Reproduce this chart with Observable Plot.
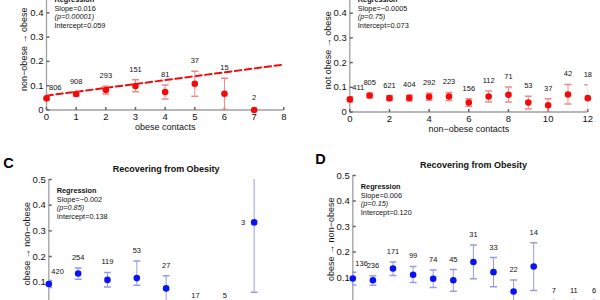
<!DOCTYPE html>
<html>
<head>
<meta charset="utf-8">
<script src="https://cdn.jsdelivr.net/npm/d3@7"></script>
<script src="https://cdn.jsdelivr.net/npm/@observablehq/plot@0.6"></script>
<style>
  html, body { margin: 0; padding: 0; background: #fff; }
  #fig { position: relative; width: 600px; height: 300px; overflow: hidden; }
  #fig svg { position: absolute; max-width: none; }
</style>
</head>
<body>
<div id="fig"></div>
<script>
// A: becoming obese, by number of obese contacts
const contactsA = [0, 1, 2, 3, 4, 5, 6, 7];
const rateA = [0.048, 0.066, 0.082, 0.099, 0.074, 0.108, 0.067, 0];
const loA   = [0.041, 0.058, 0.066, 0.075, 0.045, 0.057, 0.002, 0];
const hiA   = [0.056, 0.074, 0.098, 0.124, 0.103, 0.159, 0.131, 0];
const nA    = [806, 908, 293, 151, 81, 37, 15, 2];

// B: becoming obese, by number of non-obese contacts
const contactsB = [0, 1, 2, 3, 4, 5, 6, 7, 8, 9, 10, 11, 12];
const rateB = [0.051, 0.067, 0.056, 0.057, 0.062, 0.063, 0.038, 0.063, 0.070, 0.038, 0.027, 0.071, 0.056];
const loB   = [0.040, 0.058, 0.047, 0.045, 0.048, 0.047, 0.023, 0.040, 0.040, 0.012, 0.000, 0.032, 0.002];
const hiB   = [0.062, 0.076, 0.066, 0.068, 0.076, 0.079, 0.054, 0.085, 0.101, 0.064, 0.054, 0.111, 0.110];
const nB    = [411, 805, 621, 404, 292, 223, 156, 112, 71, 53, 37, 42, 18];

// C: recovering from obesity, by number of obese contacts
const contactsC = [0, 1, 2, 3, 4, 5, 6, 7];
const rateC = [0.093, 0.134, 0.109, 0.116, 0.076, 0, 0, 0.333];
const loC   = [0.079, 0.112, 0.081, 0.088, 0.026, 0, 0, 0.061];
const hiC   = [0.107, 0.155, 0.138, 0.183, 0.125, 0, 0, 0.605];
const nC    = [420, 254, 119, 53, 27, 17, 5, 3];

// D: recovering from obesity, by number of non-obese contacts
const contactsD = [0, 1, 2, 3, 4, 5, 6, 7, 8, 9, 10, 11, 12];
const rateD = [0.096, 0.089, 0.135, 0.111, 0.095, 0.089, 0.161, 0.121, 0.045, 0.143, 0, 0, 0];
const loD   = [0.071, 0.070, 0.108, 0.080, 0.061, 0.046, 0.095, 0.064, 0.001, 0.049, 0, 0, 0];
const hiD   = [0.121, 0.107, 0.161, 0.143, 0.129, 0.131, 0.227, 0.178, 0.090, 0.236, 0, 0, 0];
const nD    = [136, 236, 171, 99, 74, 45, 31, 33, 22, 14, 7, 11, 6];

// Regression summaries (A, B, C, D)
const slopes     = [0.016, -0.0005, -0.002, 0.006];
const pValues    = ["0.00001", "0.75", "0.85", "0.15"];
const intercepts = [0.059, 0.073, 0.138, 0.120];

const yTicks = [0, 0.1, 0.2, 0.3, 0.4, 0.5];
const yTickLabelsTop = [0, 0.1, 0.2, 0.3, 0.4];
const yTickLabelsBottom = [0.1, 0.2, 0.3, 0.4, 0.5];
const xTicksObese = [0, 1, 2, 3, 4, 5, 6, 7, 8];
const xTicksNonObese = [0, 2, 4, 6, 8, 10, 12];

const font = `"Liberation Sans", Arial, Helvetica, sans-serif`;
const axisColor = "#a0a0a0";
const red = "#f50a0a", redBar = "#f08a8a";
const blue = "#0a14f0", blueBar = "#9a9ae6";

// Custom glyphs: error-bar caps and inward-pointing axis ticks
const len = size => Math.sqrt(size / Math.PI);
const capSymbol = {draw(ctx, size) { const r = len(size); ctx.moveTo(-r, 0); ctx.lineTo(r, 0); }};
const tickRight = {draw(ctx, size) { const r = len(size); ctx.moveTo(0, 0); ctx.lineTo(r, 0); }};
const tickUp    = {draw(ctx, size) { const r = len(size); ctx.moveTo(0, 0); ctx.lineTo(0, -r); }};

const signed = v => String(v).replace("-", "\u2212");

function panel(p) {
  const rows = p.x.map((x, i) => ({x, rate: p.rate[i], lo: p.lo[i], hi: p.hi[i], n: p.n[i]}));
  const bars = rows.filter(d => d.hi > d.lo);
  const f = p.frame;
  const mt = 30, mb = 40, W = 300;
  const H = mt + (f.bottom - f.top) + mb;
  const xMax = p.xTicks[p.xTicks.length - 1];

  const marks = [
    Plot.ruleY([0], {stroke: axisColor, strokeWidth: 1.3}),
    Plot.ruleX([0], {stroke: axisColor, strokeWidth: 1.3}),
    Plot.dot(yTicks, {x: 0, y: d => d, symbol: tickRight, r: 3, stroke: "#666", fill: "none"}),
    Plot.dot(p.xTicks, {x: d => d, y: 0, symbol: tickUp, r: 3, stroke: "#666", fill: "none"}),
    Plot.axisY({ticks: p.yTickLabels, tickSize: 0, tickPadding: 3, fontSize: 9.5, label: null,
      tickFormat: d => String(d), fill: "#111"}),
    Plot.text([p.yLabel], {text: d => d, frameAnchor: "left", rotate: -90, dx: -22,
      textAnchor: "middle", lineAnchor: "middle", fontSize: 9, fill: "#111"})
  ];

  if (p.xLabel) {
    marks.push(
      Plot.axisX({ticks: p.xTicks, tickSize: 0, tickPadding: 3, fontSize: 9.5, label: null, fill: "#111"}),
      Plot.text([p.xLabel], {text: d => d, frameAnchor: "bottom", dy: 17.5,
        lineAnchor: "middle", fontSize: 9, fill: "#111"})
    );
  }
  if (p.title) {
    marks.push(Plot.text([p.title], {text: d => d, frameAnchor: "top", dy: -10,
      lineAnchor: "middle", fontSize: 9, fontWeight: "bold", fill: "#111"}));
  }
  if (p.letter) {
    marks.push(Plot.text([p.letter], {text: d => d, frameAnchor: "top-left", textAnchor: "start",
      lineAnchor: "middle", dx: p.letterDx, dy: -16, fontSize: 14.5, fontWeight: "bold", fill: "#000"}));
  }

  // Regression summary block
  const k = p.reg;
  const regLines = [
    {t: "Regression", w: "bold", s: "normal"},
    {t: "Slope=" + signed(slopes[k]), w: "normal", s: "normal"},
    {t: "(p=" + pValues[k] + ")", w: "normal", s: "italic"},
    {t: "Intercept=" + intercepts[k].toFixed(3), w: "normal", s: "normal"}
  ];
  regLines.forEach((l, i) => {
    marks.push(Plot.text([l.t], {text: d => d, frameAnchor: "top-left", textAnchor: "start",
      lineAnchor: "middle", dx: 8, dy: 11 + i * 8.7, fontSize: 7.3,
      fontWeight: l.w, fontStyle: l.s, fill: "#111"}));
  });

  // Fitted regression line
  if (p.showFit) {
    const fit = [0, xMax].map(x => ({x, y: intercepts[k] + slopes[k] * x}));
    marks.push(Plot.line(fit, {x: "x", y: "y", stroke: p.color, strokeWidth: 2,
      strokeDasharray: "6.5,3.5"}));
  }

  // Error bars with caps
  marks.push(
    Plot.ruleX(bars, {x: "x", y1: "lo", y2: "hi", stroke: p.barColor, strokeWidth: 1, clip: true}),
    Plot.dot(bars, {x: "x", y: "lo", symbol: capSymbol, r: 3.5, stroke: p.barColor, fill: "none", clip: true}),
    Plot.dot(bars, {x: "x", y: "hi", symbol: capSymbol, r: 3.5, stroke: p.barColor, fill: "none", clip: true}),
    Plot.dot(rows, {x: "x", y: "rate", r: 3.3, fill: p.color, stroke: "none"})
  );

  // Sample-size labels: right of the first point, above the others,
  // left of any point whose bar reaches the top of the axis
  const label = {text: d => String(d.n), lineAnchor: "middle", fontSize: 7.5, fill: "#111"};
  const first = rows.filter(d => d.x === 0);
  const top = rows.filter(d => d.x > 0 && d.hi > 0.45);
  const zeros = rows.filter(d => d.x > 0 && d.hi === 0);
  const rest = rows.filter(d => d.x > 0 && d.hi > 0 && d.hi <= 0.45);
  marks.push(
    Plot.text(rest, {...label, x: "x", y: "hi", dy: -10.5}),
    Plot.text(zeros, {...label, x: "x", y: "hi", dy: -12.5}),
    Plot.text(first, {...label, x: "x", y: "hi", textAnchor: "start", dx: 2.5, dy: -9}),
    Plot.text(top, {...label, x: "x", y: "rate", textAnchor: "end", dx: -9})
  );

  const svg = Plot.plot({
    width: W,
    height: H,
    marginTop: mt,
    marginBottom: mb,
    marginLeft: f.left - p.left,
    marginRight: p.left + W - f.right,
    x: {domain: [0, xMax], axis: null},
    y: {domain: [0, 0.5], axis: null},
    style: {fontFamily: font, background: "transparent", overflow: "visible"},
    marks
  });
  svg.style.left = p.left + "px";
  svg.style.top = (f.top - mt) + "px";
  svg.style.width = W + "px";
  svg.style.height = H + "px";
  document.getElementById("fig").appendChild(svg);
}

panel({
  x: contactsA, rate: rateA, lo: loA, hi: hiA, n: nA, reg: 0, showFit: true,
  color: red, barColor: redBar, xTicks: xTicksObese, yTickLabels: yTickLabelsTop,
  yLabel: "non\u2212obese \u2192 obese", xLabel: "obese contacts",
  left: 0, frame: {left: 46, right: 283.3, top: -12.2, bottom: 109.3}
});
panel({
  x: contactsB, rate: rateB, lo: loB, hi: hiB, n: nB, reg: 1,
  color: red, barColor: redBar, xTicks: xTicksNonObese, yTickLabels: yTickLabelsTop,
  yLabel: "not obese \u2192 obese", xLabel: "non\u2212obese contacts",
  left: 300, frame: {left: 349.3, right: 587.3, top: -11.8, bottom: 111.7}
});
panel({
  x: contactsC, rate: rateC, lo: loC, hi: hiC, n: nC, reg: 2,
  color: blue, barColor: blueBar, xTicks: xTicksObese, yTickLabels: yTickLabelsBottom,
  yLabel: "obese \u2192 non\u2212obese", title: "Recovering from Obesity", letter: "C", letterDx: -45.5,
  left: 0, frame: {left: 48.3, right: 283, top: 179, bottom: 307.4}
});
panel({
  x: contactsD, rate: rateD, lo: loD, hi: hiD, n: nD, reg: 3,
  color: blue, barColor: blueBar, xTicks: xTicksNonObese, yTickLabels: yTickLabelsBottom,
  yLabel: "obese \u2192 non\u2212obese", title: "Recovering from Obesity", letter: "D", letterDx: -37.5,
  left: 300, frame: {left: 352.3, right: 593.5, top: 174.7, bottom: 302.2}
});
</script>
</body>
</html>
